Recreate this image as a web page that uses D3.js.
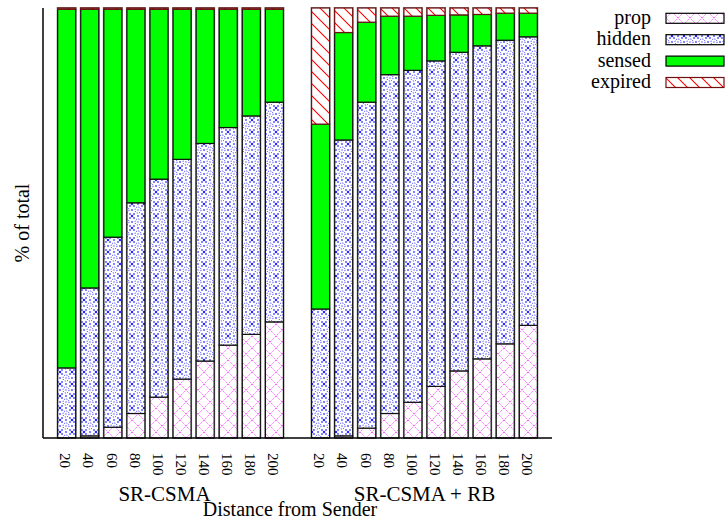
<!DOCTYPE html>
<html>
<head>
<meta charset="utf-8">
<script src="https://cdn.jsdelivr.net/npm/d3@7"></script>
<style>
  body { margin: 0; background: #fff; }
  svg text { font-family: "Liberation Serif", "Times New Roman", "DejaVu Serif", serif; fill: #000; }
</style>
</head>
<body>
<svg id="chart" width="726" height="525"></svg>
<script>
const distances = ["20", "40", "60", "80", "100", "120", "140", "160", "180", "200"];
const groups = ["SR-CSMA", "SR-CSMA + RB"];
const series = ["prop", "hidden", "sensed", "expired"];

// SR-CSMA, % of total
const propCsma = [0, 0.5, 2.5, 5.7, 9.5, 13.7, 17.9, 21.6, 24.1, 27.0];
const hiddenCsma = [16.3, 34.4, 44.2, 49.0, 50.7, 51.1, 50.6, 50.6, 50.8, 51.1];
const sensedCsma = [83.4, 64.8, 53.0, 45.0, 39.5, 34.9, 31.2, 27.5, 24.8, 21.6];
const expiredCsma = [0.3, 0.3, 0.3, 0.3, 0.3, 0.3, 0.3, 0.3, 0.3, 0.3];

// SR-CSMA + RB, % of total
const propRb = [0, 0.5, 2.3, 5.7, 8.3, 12.0, 15.6, 18.4, 21.9, 26.2];
const hiddenRb = [30.0, 68.8, 75.8, 78.8, 77.2, 75.7, 74.1, 72.8, 70.6, 67.1];
const sensedRb = [43.0, 25.0, 18.6, 13.6, 12.6, 10.6, 8.7, 7.3, 6.3, 5.5];
const expiredRb = [27.0, 5.7, 3.3, 1.9, 1.9, 1.7, 1.6, 1.5, 1.2, 1.2];

const rows = [];
distances.forEach((d, i) => rows.push({ key: "a" + d, group: 0, dist: d,
  prop: propCsma[i], hidden: hiddenCsma[i], sensed: sensedCsma[i], expired: expiredCsma[i] }));
distances.forEach((d, i) => rows.push({ key: "b" + d, group: 1, dist: d,
  prop: propRb[i], hidden: hiddenRb[i], sensed: sensedRb[i], expired: expiredRb[i] }));

const svg = d3.select("#chart");

const plotLeft = 43, plotRight = 552, plotTop = 8, plotBottom = 438;

const domain = rows.slice(0, 10).map((r) => r.key)
  .concat(["gap"])
  .concat(rows.slice(10).map((r) => r.key));

const x = d3.scaleBand().domain(domain).range([plotLeft, plotRight])
  .paddingInner(0.22).paddingOuter(0.635);
const y = d3.scaleLinear().domain([0, 100]).range([plotBottom, plotTop]);

// fill patterns
const defs = svg.append("defs");

const pProp = defs.append("pattern").attr("id", "pat-prop")
  .attr("patternUnits", "userSpaceOnUse").attr("width", 12).attr("height", 12);
pProp.append("rect").attr("width", 12).attr("height", 12).attr("fill", "#fff");
pProp.append("path").attr("d", "M0,0L12,12M12,0L0,12")
  .attr("stroke", "#ff00ff").attr("stroke-width", 0.9)
  .attr("stroke-dasharray", "1.4,1").attr("opacity", 0.7).attr("fill", "none");

const pHidden = defs.append("pattern").attr("id", "pat-hidden")
  .attr("patternUnits", "userSpaceOnUse").attr("width", 12).attr("height", 12);
pHidden.append("rect").attr("width", 12).attr("height", 12).attr("fill", "#fff");
pHidden.append("circle").attr("cx", 6).attr("cy", 6).attr("r", 3)
  .attr("fill", "none").attr("stroke", "#3030ff").attr("stroke-width", 1)
  .attr("stroke-dasharray", "1.1,1.25");
[[0, 0], [12, 0], [0, 12], [12, 12], [6, 0], [0, 6], [12, 6], [6, 12],
 [2, 2], [10, 2], [2, 10], [10, 10], [6, 6]]
  .forEach(([cx, cy], i) => {
    const s = i < 4 ? 2.2 : 1.5;
    pHidden.append("rect").attr("x", cx - s / 2).attr("y", cy - s / 2)
      .attr("width", s).attr("height", s)
      .attr("fill", "#0000ff").attr("opacity", i === 12 ? 0.45 : 0.85);
  });

const pExpired = defs.append("pattern").attr("id", "pat-expired")
  .attr("patternUnits", "userSpaceOnUse").attr("width", 12).attr("height", 12);
pExpired.append("rect").attr("width", 12).attr("height", 12).attr("fill", "#fff");
pExpired.append("path").attr("d", "M0,0L12,12M-6,6L6,18M6,-6L18,6")
  .attr("stroke", "#ff0000").attr("stroke-width", 1.1).attr("fill", "none");

const fills = {
  prop: "url(#pat-prop)",
  hidden: "url(#pat-hidden)",
  sensed: "#00ff00",
  expired: "url(#pat-expired)"
};
const borders = { prop: "#111", hidden: "#111", sensed: "#111", expired: "#701010" };

const stacked = d3.stack().keys(series)(rows);

// grey edge behind each bar
svg.append("g").selectAll("rect").data(rows).enter().append("rect")
  .attr("x", (r) => x(r.key) - 1)
  .attr("y", y(100) - 1)
  .attr("width", x.bandwidth() + 2)
  .attr("height", y(0) - y(100) + 1)
  .attr("fill", "#888");

stacked.forEach((layer) => {
  svg.append("g").selectAll("rect").data(layer).enter().append("rect")
    .attr("x", (d) => x(d.data.key))
    .attr("y", (d) => y(d[1]))
    .attr("width", x.bandwidth())
    .attr("height", (d) => Math.max(0, y(d[0]) - y(d[1])))
    .attr("fill", fills[layer.key])
    .attr("stroke", borders[layer.key])
    .attr("stroke-width", 1.2);
});

// axes lines
svg.append("line").attr("x1", plotLeft).attr("x2", plotLeft).attr("y1", plotTop).attr("y2", plotBottom)
  .attr("stroke", "#000").attr("stroke-width", 1.5);
svg.append("line").attr("x1", plotLeft).attr("x2", plotRight).attr("y1", plotBottom).attr("y2", plotBottom)
  .attr("stroke", "#000").attr("stroke-width", 1.5);

// rotated tick labels
svg.append("g").selectAll("text").data(rows).enter().append("text")
  .attr("transform", (r) => `translate(${x(r.key) + x.bandwidth() / 2 - 1},453) rotate(90)`)
  .attr("dy", "0.35em")
  .style("font-size", "15px")
  .text((r) => r.dist);

// group labels
groups.forEach((g, i) => {
  const keys = rows.filter((r) => r.group === i).map((r) => r.key);
  const cx = (x(keys[0]) + x(keys[keys.length - 1]) + x.bandwidth()) / 2;
  svg.append("text")
    .attr("x", cx + (i === 0 ? -6 : 0))
    .attr("y", 501)
    .attr("text-anchor", "middle")
    .style("font-size", "21px")
    .text(g);
});

svg.append("text")
  .attr("x", 290).attr("y", 516)
  .attr("text-anchor", "middle")
  .style("font-size", "20px")
  .text("Distance from Sender");

svg.append("text")
  .attr("transform", "translate(29,223) rotate(-90)")
  .attr("text-anchor", "middle")
  .style("font-size", "20px")
  .text("% of total");

// legend
const legend = svg.append("g");
series.forEach((s, i) => {
  const ly = 13.3 + i * 21.4;
  legend.append("text")
    .attr("x", 651).attr("y", ly + 10.5)
    .attr("text-anchor", "end")
    .style("font-size", "20px")
    .text(s);
  legend.append("rect")
    .attr("x", 666).attr("y", ly)
    .attr("width", 58).attr("height", 10)
    .attr("fill", fills[s])
    .attr("stroke", s === "expired" ? "#701010" : "#000")
    .attr("stroke-width", 1.2);
});
</script>
</body>
</html>
